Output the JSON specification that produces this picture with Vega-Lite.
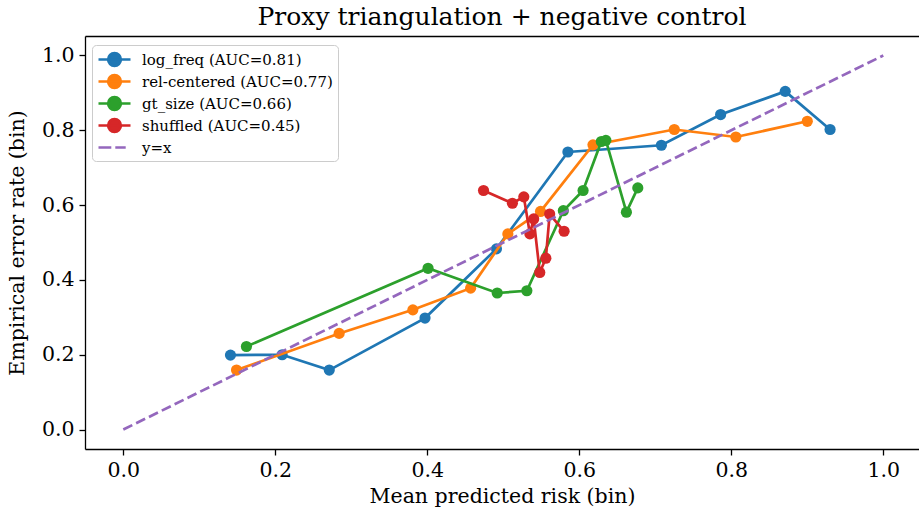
{
  "$schema": "https://vega.github.io/schema/vega-lite/v6.json",
  "width": 834,
  "height": 413,
  "autosize": {"type": "none"},
  "padding": {"left": 85, "top": 36, "right": 0, "bottom": 59},
  "title": {
    "text": "Proxy triangulation + negative control",
    "font": "DejaVu Serif",
    "fontSize": 25,
    "fontWeight": "normal",
    "color": "#000000",
    "anchor": "middle",
    "offset": 6
  },
  "config": {
    "view": {"stroke": null},
    "axis": {
      "labelFont": "DejaVu Serif",
      "labelFontSize": 20.5,
      "labelColor": "#000000",
      "titleFont": "DejaVu Serif",
      "titleFontSize": 20.5,
      "titleFontWeight": "normal",
      "titleColor": "#000000",
      "domainColor": "#000000",
      "domainWidth": 1.3,
      "tickColor": "#000000",
      "tickWidth": 1.3,
      "tickSize": 6,
      "labelPadding": 5,
      "grid": false
    },
    "legend": {
      "orient": "none",
      "legendX": 7,
      "legendY": 9,
      "padding": 5,
      "fillColor": "#ffffff",
      "strokeColor": "#cccccc",
      "cornerRadius": 4,
      "labelFont": "DejaVu Serif",
      "labelFontSize": 15,
      "labelColor": "#000000",
      "labelLimit": 400,
      "labelOffset": 26,
      "symbolSize": 256,
      "symbolStrokeWidth": 2.7,
      "rowPadding": -4.5
    }
  },
  "datasets": {
    "curves": [
      {"series": "log_freq (AUC=0.81)", "i": 0, "risk": 0.141, "rate": 0.199},
      {"series": "log_freq (AUC=0.81)", "i": 1, "risk": 0.209, "rate": 0.200},
      {"series": "log_freq (AUC=0.81)", "i": 2, "risk": 0.271, "rate": 0.159},
      {"series": "log_freq (AUC=0.81)", "i": 3, "risk": 0.397, "rate": 0.298},
      {"series": "log_freq (AUC=0.81)", "i": 4, "risk": 0.491, "rate": 0.483},
      {"series": "log_freq (AUC=0.81)", "i": 5, "risk": 0.585, "rate": 0.742},
      {"series": "log_freq (AUC=0.81)", "i": 6, "risk": 0.708, "rate": 0.760},
      {"series": "log_freq (AUC=0.81)", "i": 7, "risk": 0.786, "rate": 0.842},
      {"series": "log_freq (AUC=0.81)", "i": 8, "risk": 0.871, "rate": 0.904},
      {"series": "log_freq (AUC=0.81)", "i": 9, "risk": 0.930, "rate": 0.802},
      {"series": "rel-centered (AUC=0.77)", "i": 0, "risk": 0.149, "rate": 0.159},
      {"series": "rel-centered (AUC=0.77)", "i": 1, "risk": 0.284, "rate": 0.257},
      {"series": "rel-centered (AUC=0.77)", "i": 2, "risk": 0.381, "rate": 0.320},
      {"series": "rel-centered (AUC=0.77)", "i": 3, "risk": 0.457, "rate": 0.378},
      {"series": "rel-centered (AUC=0.77)", "i": 4, "risk": 0.506, "rate": 0.523},
      {"series": "rel-centered (AUC=0.77)", "i": 5, "risk": 0.549, "rate": 0.583},
      {"series": "rel-centered (AUC=0.77)", "i": 6, "risk": 0.618, "rate": 0.761},
      {"series": "rel-centered (AUC=0.77)", "i": 7, "risk": 0.725, "rate": 0.802},
      {"series": "rel-centered (AUC=0.77)", "i": 8, "risk": 0.806, "rate": 0.782},
      {"series": "rel-centered (AUC=0.77)", "i": 9, "risk": 0.900, "rate": 0.824},
      {"series": "gt_size (AUC=0.66)", "i": 0, "risk": 0.162, "rate": 0.222},
      {"series": "gt_size (AUC=0.66)", "i": 1, "risk": 0.401, "rate": 0.431},
      {"series": "gt_size (AUC=0.66)", "i": 2, "risk": 0.492, "rate": 0.365},
      {"series": "gt_size (AUC=0.66)", "i": 3, "risk": 0.531, "rate": 0.371},
      {"series": "gt_size (AUC=0.66)", "i": 4, "risk": 0.579, "rate": 0.585},
      {"series": "gt_size (AUC=0.66)", "i": 5, "risk": 0.605, "rate": 0.639},
      {"series": "gt_size (AUC=0.66)", "i": 6, "risk": 0.629, "rate": 0.770},
      {"series": "gt_size (AUC=0.66)", "i": 7, "risk": 0.635, "rate": 0.773},
      {"series": "gt_size (AUC=0.66)", "i": 8, "risk": 0.662, "rate": 0.581},
      {"series": "gt_size (AUC=0.66)", "i": 9, "risk": 0.677, "rate": 0.646},
      {"series": "shuffled (AUC=0.45)", "i": 0, "risk": 0.474, "rate": 0.639},
      {"series": "shuffled (AUC=0.45)", "i": 1, "risk": 0.512, "rate": 0.605},
      {"series": "shuffled (AUC=0.45)", "i": 2, "risk": 0.527, "rate": 0.622},
      {"series": "shuffled (AUC=0.45)", "i": 3, "risk": 0.535, "rate": 0.523},
      {"series": "shuffled (AUC=0.45)", "i": 4, "risk": 0.540, "rate": 0.563},
      {"series": "shuffled (AUC=0.45)", "i": 5, "risk": 0.548, "rate": 0.420},
      {"series": "shuffled (AUC=0.45)", "i": 6, "risk": 0.556, "rate": 0.458},
      {"series": "shuffled (AUC=0.45)", "i": 7, "risk": 0.561, "rate": 0.576},
      {"series": "shuffled (AUC=0.45)", "i": 8, "risk": 0.580, "rate": 0.530}
    ],
    "diagonal": [
      {"series": "y=x", "risk": 0, "rate": 0},
      {"series": "y=x", "risk": 1, "rate": 1}
    ]
  },
  "encoding": {
    "x": {
      "field": "risk",
      "type": "quantitative",
      "scale": {"domain": [-0.0504, 1.047], "nice": false, "zero": false},
      "axis": {
        "values": [0, 0.2, 0.4, 0.6, 0.8, 1.0],
        "format": ".1f",
        "title": "Mean predicted risk (bin)",
        "titlePadding": 6
      }
    },
    "y": {
      "field": "rate",
      "type": "quantitative",
      "scale": {"domain": [-0.052, 1.052], "nice": false, "zero": false},
      "axis": {
        "values": [0, 0.2, 0.4, 0.6, 0.8, 1.0],
        "format": ".1f",
        "title": "Empirical error rate (bin)",
        "titlePadding": 14
      }
    },
    "color": {
      "field": "series",
      "type": "nominal",
      "scale": {
        "domain": ["log_freq (AUC=0.81)", "rel-centered (AUC=0.77)", "gt_size (AUC=0.66)", "shuffled (AUC=0.45)", "y=x"],
        "range": ["#1f77b4", "#ff7f0e", "#2ca02c", "#d62728", "#9467bd"]
      },
      "legend": {
        "title": null,
        "encode": {
          "symbols": {
            "update": {
              "shape": {"signal": "datum.value === 'y=x' ? 'M-1,0H0.6M1.1,0H2.4' : 'M-1,0H3M0.21,0A0.79,0.79,0,1,0,1.79,0A0.79,0.79,0,1,0,0.21,0Z'"},
              "fill": {"signal": "datum.value === 'y=x' ? 'transparent' : scale('color', datum.value)"},
              "stroke": {"scale": "color", "field": "value"},
              "strokeWidth": {"value": 2.7},
              "opacity": {"value": 1}
            }
          }
        }
      }
    }
  },
  "layer": [
    {
      "data": {"name": "curves"},
      "layer": [
        {
          "transform": [{"filter": "datum.series === 'log_freq (AUC=0.81)'"}],
          "layer": [
            {"mark": {"type": "line", "strokeWidth": 2.7}, "encoding": {"order": {"field": "i", "type": "quantitative"}}},
            {"mark": {"type": "point", "filled": true, "size": 125, "opacity": 1}}
          ]
        },
        {
          "transform": [{"filter": "datum.series === 'rel-centered (AUC=0.77)'"}],
          "layer": [
            {"mark": {"type": "line", "strokeWidth": 2.7}, "encoding": {"order": {"field": "i", "type": "quantitative"}}},
            {"mark": {"type": "point", "filled": true, "size": 125, "opacity": 1}}
          ]
        },
        {
          "transform": [{"filter": "datum.series === 'gt_size (AUC=0.66)'"}],
          "layer": [
            {"mark": {"type": "line", "strokeWidth": 2.7}, "encoding": {"order": {"field": "i", "type": "quantitative"}}},
            {"mark": {"type": "point", "filled": true, "size": 125, "opacity": 1}}
          ]
        },
        {
          "transform": [{"filter": "datum.series === 'shuffled (AUC=0.45)'"}],
          "layer": [
            {"mark": {"type": "line", "strokeWidth": 2.7}, "encoding": {"order": {"field": "i", "type": "quantitative"}}},
            {"mark": {"type": "point", "filled": true, "size": 125, "opacity": 1}}
          ]
        }
      ]
    },
    {
      "data": {"name": "diagonal"},
      "mark": {"type": "line", "strokeWidth": 2.7, "strokeDash": [10, 4.3]},
      "encoding": {
        "x": {
          "field": "risk",
          "type": "quantitative",
          "scale": {"domain": [-0.0504, 1.047], "nice": false, "zero": false},
          "axis": {"orient": "top", "labels": false, "ticks": false, "title": null, "domain": true}
        }
      }
    }
  ],
  "resolve": {"axis": {"x": "independent"}}
}
